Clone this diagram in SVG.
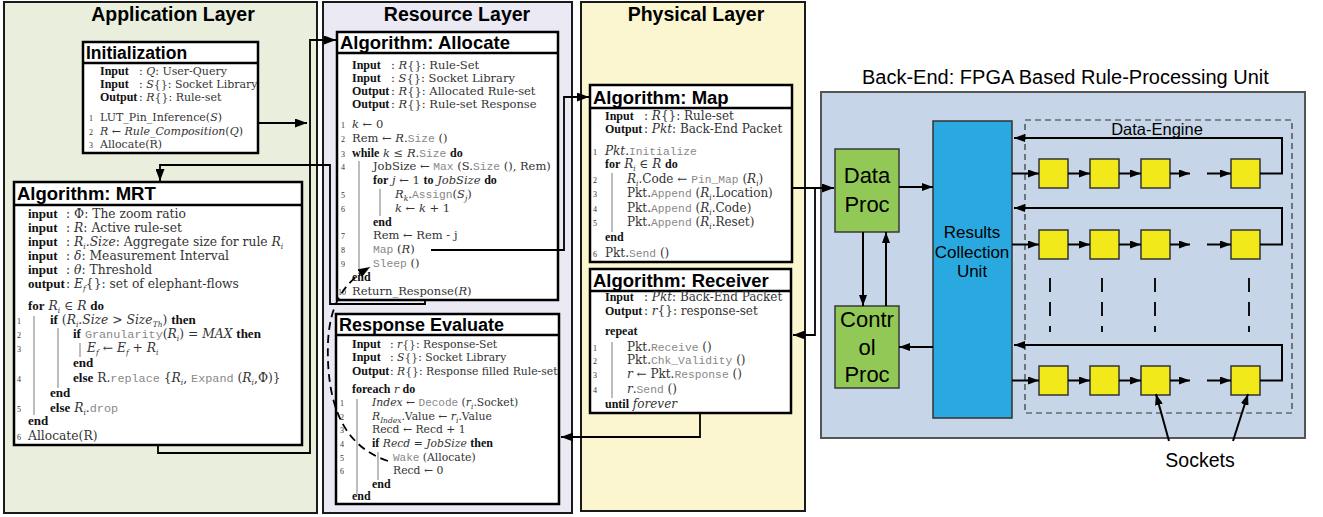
<svg xmlns="http://www.w3.org/2000/svg" width="1323" height="517" viewBox="0 0 1323 517">
<defs>
<marker id="ah" viewBox="0 0 12 9" refX="12" refY="4.5" markerWidth="12" markerHeight="9" markerUnits="userSpaceOnUse" orient="auto"><path d="M0,0 L12,4.5 L0,9 z" fill="#000"/></marker>
<marker id="ab" viewBox="0 0 11 8" refX="11" refY="4" markerWidth="11" markerHeight="8" markerUnits="userSpaceOnUse" orient="auto"><path d="M0,0 L11,4 L0,8 z" fill="#000"/></marker>
</defs>
<style>
.pan{stroke:#1a1a1a;stroke-width:2}
.lt{font-family:"Liberation Sans",Arial,sans-serif;font-weight:bold;font-size:19.5px;text-anchor:middle;fill:#000}
.box{fill:#fff;stroke:#000;stroke-width:2.5}
.ttl{font-family:"Liberation Sans",Arial,sans-serif;font-weight:bold;font-size:18.5px;fill:#000}
.tx{font-family:"DejaVu Serif",serif;font-size:11px;fill:#333}
.f115{font-size:11.5px}
.f12{font-size:12px}
.f123{font-size:12.3px}
.k{font-family:"Liberation Serif","Times New Roman",serif;font-weight:bold;font-size:12px;fill:#111}
.i{font-style:italic}
.m{font-family:"Liberation Mono","Courier New",monospace;font-size:11px;fill:#888}
.f123 .m{font-size:11.8px}
.f12 .m,.f115 .m{font-size:11.3px}
.f123 .k{font-size:13px}
.sb{font-size:7.5px;baseline-shift:-3px}
.n{font-family:"Liberation Serif",serif;font-size:8px;fill:#333}
.bar{stroke:#9a9a9a;stroke-width:1.3}
.sa{font-family:"Liberation Sans",Arial,sans-serif;fill:#000}
.grn{fill:#92c855;stroke:#3a3a3a;stroke-width:1.5}
.sq{fill:#f2e91a;stroke:#333;stroke-width:1.5}
.cn{fill:none;stroke:#000;stroke-width:1.8}
.cb{fill:none;stroke:#000;stroke-width:2}
</style>

<g id="application-layer">
<rect class="pan" x="4" y="2" width="313" height="511" fill="#e9efdc"/>
<text class="lt" x="173" y="21">Application Layer</text>
</g>
<g id="resource-layer">
<rect class="pan" x="323" y="2" width="249" height="511" fill="#ebe9f3"/>
<text class="lt" x="457" y="21">Resource Layer</text>
</g>
<g id="physical-layer">
<rect class="pan" x="581" y="2" width="224" height="509" fill="#fbf6d0"/>
<text class="lt" x="696" y="21">Physical Layer</text>
</g>

<g id="initialization">
<rect class="box" x="83" y="42" width="175" height="111"/>
<line x1="83" y1="63" x2="258" y2="63" stroke="#000" stroke-width="2.5"/>
<text class="ttl" x="86" y="59" style="font-size:17.5px">Initialization</text>
<text class="tx" x="100" y="75"><tspan class="k">Input</tspan></text><text class="tx" x="139" y="75">: <tspan class="i">Q</tspan>: User-Query</text>
<text class="tx" x="100" y="88"><tspan class="k">Input</tspan></text><text class="tx" x="139" y="88">: <tspan class="i">S</tspan>{}: Socket Library</text>
<text class="tx" x="100" y="101"><tspan class="k">Output</tspan></text><text class="tx" x="139" y="101">: <tspan class="i">R</tspan>{}: Rule-set</text>
<text class="n" x="89" y="121">1</text><text class="tx" x="100" y="121">LUT_Pin_Inference(<tspan class="i">S</tspan>)</text>
<text class="n" x="89" y="135">2</text><text class="tx" x="100" y="135"><tspan class="i">R</tspan> ← <tspan class="i">Rule_Composition</tspan>(<tspan class="i">Q</tspan>)</text>
<text class="n" x="89" y="148">3</text><text class="tx" x="100" y="148">Allocate(R)</text>
</g>

<g id="mrt">
<rect class="box" x="14" y="182" width="288" height="263"/>
<line x1="14" y1="205" x2="302" y2="205" stroke="#000" stroke-width="2.5"/>
<text class="ttl" x="17" y="200">Algorithm: MRT</text>
<g class="tx f123">
<text x="28" y="218"><tspan class="k">input</tspan></text><text x="66" y="218">: Φ: The zoom ratio</text>
<text x="28" y="232"><tspan class="k">input</tspan></text><text x="66" y="232">: <tspan class="i">R</tspan>: Active rule-set</text>
<text x="28" y="246"><tspan class="k">input</tspan></text><text x="66" y="246">: <tspan class="i">R</tspan><tspan class="sb i">i</tspan><tspan class="i">.Size</tspan>: Aggregate size for rule <tspan class="i">R</tspan><tspan class="sb i">i</tspan></text>
<text x="28" y="260"><tspan class="k">input</tspan></text><text x="66" y="260">: <tspan class="i">δ</tspan>: Measurement Interval</text>
<text x="28" y="274"><tspan class="k">input</tspan></text><text x="66" y="274">: <tspan class="i">θ</tspan>: Threshold</text>
<text x="28" y="288"><tspan class="k">output</tspan></text><text x="66" y="288">: <tspan class="i">E</tspan><tspan class="sb i">f</tspan>{}: set of elephant-flows</text>
<text x="28" y="310"><tspan class="k">for</tspan> <tspan class="i">R</tspan><tspan class="sb i">i</tspan> ∈ <tspan class="i">R</tspan> <tspan class="k">do</tspan></text>
<text x="50" y="324"><tspan class="k">if</tspan> (<tspan class="i">R</tspan><tspan class="sb i">i</tspan><tspan class="i">.Size</tspan> &gt; <tspan class="i">Size</tspan><tspan class="sb i">Th</tspan>) <tspan class="k">then</tspan></text>
<text x="73" y="338"><tspan class="k">if</tspan> <tspan class="m">Granularity</tspan>(<tspan class="i">R</tspan><tspan class="sb i">i</tspan>) = <tspan class="i">MAX</tspan> <tspan class="k">then</tspan></text>
<text x="87" y="352"><tspan class="i">E</tspan><tspan class="sb i">f</tspan> ← <tspan class="i">E</tspan><tspan class="sb i">f</tspan> + <tspan class="i">R</tspan><tspan class="sb i">i</tspan></text>
<text x="73" y="367"><tspan class="k">end</tspan></text>
<text x="73" y="382"><tspan class="k">else</tspan> R.<tspan class="m">replace</tspan> {<tspan class="i">R</tspan><tspan class="sb i">i</tspan>, <tspan class="m">Expand</tspan> (<tspan class="i">R</tspan><tspan class="sb i">i</tspan>,Φ)}</text>
<text x="50" y="397"><tspan class="k">end</tspan></text>
<text x="50" y="412"><tspan class="k">else</tspan> <tspan class="i">R</tspan><tspan class="sb i">i</tspan>.<tspan class="m">drop</tspan></text>
<text x="28" y="425"><tspan class="k">end</tspan></text>
<text x="28" y="440">Allocate(R)</text>
</g>
<text class="n" x="17" y="324">1</text><text class="n" x="17" y="338">2</text><text class="n" x="17" y="352">3</text><text class="n" x="17" y="382">4</text><text class="n" x="17" y="412">5</text><text class="n" x="17" y="440">6</text>
<line class="bar" x1="34" y1="316" x2="34" y2="415"/>
<line class="bar" x1="58" y1="328" x2="58" y2="388"/>
<line class="bar" x1="80" y1="343" x2="80" y2="357"/>
</g>

<g id="allocate">
<rect class="box" x="337" y="32" width="221" height="268"/>
<line x1="337" y1="53" x2="558" y2="53" stroke="#000" stroke-width="2.5"/>
<text class="ttl" x="340" y="49">Algorithm: Allocate</text>
<g class="tx f115">
<text x="352" y="69"><tspan class="k">Input</tspan></text><text x="391" y="69">: <tspan class="i">R</tspan>{}: Rule-Set</text>
<text x="352" y="82"><tspan class="k">Input</tspan></text><text x="391" y="82">: <tspan class="i">S</tspan>{}: Socket Library</text>
<text x="352" y="95"><tspan class="k">Output</tspan></text><text x="391" y="95">: <tspan class="i">R</tspan>{}: Allocated Rule-set</text>
<text x="352" y="108"><tspan class="k">Output</tspan></text><text x="391" y="108">: <tspan class="i">R</tspan>{}: Rule-set Response</text>
<text x="352" y="128"><tspan class="i">k</tspan> ← 0</text>
<text x="352" y="142">Rem ← <tspan class="i">R</tspan>.<tspan class="m">Size</tspan> ()</text>
<text x="352" y="157"><tspan class="k">while</tspan> <tspan class="i">k</tspan> ≤ <tspan class="i">R</tspan>.<tspan class="m">Size</tspan> <tspan class="k">do</tspan></text>
<text x="373" y="170">JobSize ← <tspan class="m">Max</tspan> (S.<tspan class="m">Size</tspan> (), Rem)</text>
<text x="373" y="184"><tspan class="k">for</tspan> <tspan class="i">j</tspan> ← 1 <tspan class="k">to</tspan> <tspan class="i">JobSize</tspan> <tspan class="k">do</tspan></text>
<text x="395" y="198"><tspan class="i">R</tspan><tspan class="sb i">k</tspan>.<tspan class="m">Assign</tspan>(<tspan class="i">S</tspan><tspan class="sb i">j</tspan>)</text>
<text x="395" y="212"><tspan class="i">k</tspan> ← <tspan class="i">k</tspan> + 1</text>
<text x="373" y="226"><tspan class="k">end</tspan></text>
<text x="373" y="239">Rem ← Rem - j</text>
<text x="373" y="253"><tspan class="m">Map</tspan> (<tspan class="i">R</tspan>)</text>
<text x="373" y="267"><tspan class="m">Sleep</tspan> ()</text>
<text x="352" y="281"><tspan class="k">end</tspan></text>
<text x="352" y="295">Return_Response(<tspan class="i">R</tspan>)</text>
</g>
<text class="n" x="341" y="128">1</text><text class="n" x="341" y="142">2</text><text class="n" x="341" y="157">3</text><text class="n" x="341" y="170">4</text><text class="n" x="341" y="198">5</text><text class="n" x="341" y="212">6</text><text class="n" x="341" y="239">7</text><text class="n" x="341" y="253">8</text><text class="n" x="341" y="267">9</text><text class="n" x="338" y="295">10</text>
<line class="bar" x1="359" y1="161" x2="359" y2="274"/>
<line class="bar" x1="380" y1="189" x2="380" y2="216"/>
</g>

<g id="response-evaluate">
<rect class="box" x="336" y="314" width="223" height="190"/>
<line x1="336" y1="335" x2="559" y2="335" stroke="#000" stroke-width="2.5"/>
<text class="ttl" x="339" y="331" style="font-size:18px">Response Evaluate</text>
<g class="tx" style="font-size:10.8px">
<text x="352" y="348"><tspan class="k">Input</tspan></text><text x="390" y="348">: <tspan class="i">r</tspan>{}: Response-Set</text>
<text x="352" y="361"><tspan class="k">Input</tspan></text><text x="390" y="361">: <tspan class="i">S</tspan>{}: Socket Library</text>
<text x="352" y="375"><tspan class="k">Output</tspan></text><text x="390" y="375">: <tspan class="i">R</tspan>{}: Response filled Rule-set</text>
<text x="352" y="393"><tspan class="k">foreach</tspan> <tspan class="i">r</tspan> <tspan class="k">do</tspan></text>
<text x="372" y="406"><tspan class="i">Index</tspan> ← <tspan class="m">Decode</tspan> (<tspan class="i">r</tspan><tspan class="sb i">i</tspan>.Socket)</text>
<text x="372" y="420"><tspan class="i">R</tspan><tspan class="sb i">Index</tspan>.Value ← <tspan class="i">r</tspan><tspan class="sb i">i</tspan>.Value</text>
<text x="372" y="433">Recd ← Recd + 1</text>
<text x="372" y="447"><tspan class="k">if</tspan> <tspan class="i">Recd = JobSize</tspan> <tspan class="k">then</tspan></text>
<text x="393" y="461"><tspan class="m">Wake</tspan> (Allocate)</text>
<text x="393" y="474">Recd ← 0</text>
<text x="372" y="488"><tspan class="k">end</tspan></text>
<text x="352" y="500"><tspan class="k">end</tspan></text>
</g>
<text class="n" x="340" y="406">1</text><text class="n" x="340" y="420">2</text><text class="n" x="340" y="433">3</text><text class="n" x="340" y="447">4</text><text class="n" x="340" y="461">5</text><text class="n" x="340" y="474">6</text>
<line class="bar" x1="357" y1="399" x2="357" y2="494"/>
<line class="bar" x1="378" y1="452" x2="378" y2="480"/>
</g>

<g id="map">
<rect class="box" x="590" y="85" width="202" height="177"/>
<line x1="590" y1="108" x2="792" y2="108" stroke="#000" stroke-width="2.5"/>
<text class="ttl" x="593" y="104">Algorithm: Map</text>
<g class="tx f12">
<text x="605" y="120"><tspan class="k">Input</tspan></text><text x="644" y="120">: <tspan class="i">R</tspan>{}: Rule-set</text>
<text x="605" y="133"><tspan class="k">Output</tspan></text><text x="644" y="133">: <tspan class="i">Pkt</tspan>: Back-End Packet</text>
<text x="605" y="155"><tspan class="i">Pkt</tspan>.<tspan class="m">Initialize</tspan></text>
<text x="605" y="168"><tspan class="k">for</tspan> <tspan class="i">R</tspan><tspan class="sb i">i</tspan> ∈ <tspan class="i">R</tspan> <tspan class="k">do</tspan></text>
<text x="627" y="183"><tspan class="i">R</tspan><tspan class="sb i">i</tspan>.Code ← <tspan class="m">Pin_Map</tspan> (<tspan class="i">R</tspan><tspan class="sb i">i</tspan>)</text>
<text x="627" y="197">Pkt.<tspan class="m">Append</tspan> (<tspan class="i">R</tspan><tspan class="sb i">i</tspan>.Location)</text>
<text x="627" y="212">Pkt.<tspan class="m">Append</tspan> (<tspan class="i">R</tspan><tspan class="sb i">i</tspan>.Code)</text>
<text x="627" y="226">Pkt.<tspan class="m">Append</tspan> (<tspan class="i">R</tspan><tspan class="sb i">i</tspan>.Reset)</text>
<text x="605" y="241"><tspan class="k">end</tspan></text>
<text x="605" y="257">Pkt.<tspan class="m">Send</tspan> ()</text>
</g>
<text class="n" x="593" y="155">1</text><text class="n" x="593" y="183">2</text><text class="n" x="593" y="197">3</text><text class="n" x="593" y="212">4</text><text class="n" x="593" y="226">5</text><text class="n" x="593" y="257">6</text>
<line class="bar" x1="612" y1="173" x2="612" y2="232"/>
</g>

<g id="receiver">
<rect class="box" x="590" y="269" width="201" height="144"/>
<line x1="590" y1="291" x2="791" y2="291" stroke="#000" stroke-width="2.5"/>
<text class="ttl" x="593" y="287">Algorithm: Receiver</text>
<g class="tx f12">
<text x="605" y="301"><tspan class="k">Input</tspan></text><text x="644" y="301">: <tspan class="i">Pkt</tspan>: Back-End Packet</text>
<text x="605" y="315"><tspan class="k">Output</tspan></text><text x="644" y="315">: <tspan class="i">r</tspan>{}: response-set</text>
<text x="605" y="335"><tspan class="k">repeat</tspan></text>
<text x="627" y="351">Pkt.<tspan class="m">Receive</tspan> ()</text>
<text x="627" y="364">Pkt.<tspan class="m">Chk_Validity</tspan> ()</text>
<text x="627" y="378"><tspan class="i">r</tspan> ← Pkt.<tspan class="m">Response</tspan> ()</text>
<text x="627" y="393"><tspan class="i">r</tspan>.<tspan class="m">Send</tspan> ()</text>
<text x="605" y="408"><tspan class="k">until</tspan> <tspan class="i">forever</tspan></text>
</g>
<text class="n" x="593" y="351">1</text><text class="n" x="593" y="364">2</text><text class="n" x="593" y="378">3</text><text class="n" x="593" y="393">4</text>
<line class="bar" x1="612" y1="342" x2="612" y2="398"/>
</g>

<g id="back-end">
<rect x="821" y="92" width="484" height="346" fill="#c6d6e8" stroke="#555" stroke-width="2"/>
<text class="sa" x="862" y="84" style="font-size:20px">Back-End: FPGA Based Rule-Processing Unit</text>
</g>
<g id="data-proc">
<rect class="grn" x="835" y="149" width="64" height="83"/>
<text class="sa" x="867" y="183" text-anchor="middle" style="font-size:22px">Data</text>
<text class="sa" x="867" y="212" text-anchor="middle" style="font-size:22px">Proc</text>
</g>
<g id="control-proc">
<rect class="grn" x="835" y="306" width="64" height="82"/>
<text class="sa" x="867" y="327" text-anchor="middle" style="font-size:22px">Contr</text>
<text class="sa" x="867" y="355" text-anchor="middle" style="font-size:22px">ol</text>
<text class="sa" x="867" y="382" text-anchor="middle" style="font-size:22px">Proc</text>
</g>
<g id="results-collection-unit">
<rect x="933" y="121" width="79" height="297" fill="#29a9e0" stroke="#333" stroke-width="1.5"/>
<text class="sa" x="972" y="238" text-anchor="middle" style="font-size:17px">Results</text>
<text class="sa" x="972" y="258" text-anchor="middle" style="font-size:17px">Collection</text>
<text class="sa" x="972" y="277" text-anchor="middle" style="font-size:17px">Unit</text>
</g>
<g id="data-engine">
<rect x="1025" y="120" width="267" height="293" fill="none" stroke="#333" stroke-width="1.2" stroke-dasharray="6 4"/>
<text class="sa" x="1157" y="135" text-anchor="middle" style="font-size:16.5px">Data-Engine</text>
<g id="sockets-row1">
<rect class="sq" x="1039" y="159" width="29" height="29"/><rect class="sq" x="1090" y="159" width="29" height="29"/><rect class="sq" x="1141" y="159" width="29" height="29"/><rect class="sq" x="1231" y="159" width="29" height="29"/>
</g>
<g id="sockets-row2">
<rect class="sq" x="1039" y="230" width="29" height="29"/><rect class="sq" x="1090" y="230" width="29" height="29"/><rect class="sq" x="1141" y="230" width="29" height="29"/><rect class="sq" x="1231" y="230" width="29" height="29"/>
</g>
<g id="sockets-row3">
<rect class="sq" x="1039" y="366" width="29" height="29"/><rect class="sq" x="1090" y="366" width="29" height="29"/><rect class="sq" x="1141" y="366" width="29" height="29"/><rect class="sq" x="1231" y="366" width="29" height="29"/>
</g>
<g stroke="#111" stroke-width="2" stroke-dasharray="14 10">
<line x1="1050" y1="278" x2="1050" y2="332"/><line x1="1102" y1="278" x2="1102" y2="332"/><line x1="1155" y1="278" x2="1155" y2="332"/><line x1="1249" y1="278" x2="1249" y2="332"/>
</g>
</g>
<g id="sockets-label">
<text class="sa" x="1200" y="467" text-anchor="middle" style="font-size:19.5px">Sockets</text>
</g>

<g id="connectors">
<path class="cn" d="M258 123 H307" marker-end="url(#ah)"/>
<path class="cn" d="M158 445 V453 H310 V40 H336" marker-end="url(#ah)"/>
<path class="cn" d="M425 300 V304 H330 V165 H160 V181" marker-end="url(#ah)"/>
<path class="cn" d="M431 250 H564 V97 H589" marker-end="url(#ah)"/>
<path class="cn" d="M792 188 H834" marker-end="url(#ah)"/>
<path class="cn" d="M815 188 V335 H793" marker-end="url(#ah)"/>
<path class="cn" d="M700 413 V437 H561" marker-end="url(#ah)"/>
<path class="cn" d="M388 461 C342 446 326 402 328 342 C330 302 345 282 370 267" stroke-dasharray="8 5" marker-end="url(#ah)"/>
<path class="cb" d="M899 187 H933" marker-end="url(#ab)"/>
<path class="cb" d="M933 347 H899" marker-end="url(#ab)"/>
<path class="cb" d="M863 232 V306" marker-end="url(#ab)"/>
<path class="cb" d="M886 306 V232" marker-end="url(#ab)"/>
<path class="cb" d="M1012 173.5 H1039" marker-end="url(#ab)"/>
<path class="cb" d="M1068 173.5 H1090" marker-end="url(#ab)"/>
<path class="cb" d="M1119 173.5 H1141" marker-end="url(#ab)"/>
<path class="cb" d="M1170 173.5 H1190" marker-end="url(#ab)"/>
<path class="cb" d="M1207 173.5 H1231" marker-end="url(#ab)"/>
<path class="cb" d="M1260 173.5 H1282 V138 H1014" marker-end="url(#ab)"/>
<path class="cb" d="M1012 244.5 H1039" marker-end="url(#ab)"/>
<path class="cb" d="M1068 244.5 H1090" marker-end="url(#ab)"/>
<path class="cb" d="M1119 244.5 H1141" marker-end="url(#ab)"/>
<path class="cb" d="M1170 244.5 H1190" marker-end="url(#ab)"/>
<path class="cb" d="M1207 244.5 H1231" marker-end="url(#ab)"/>
<path class="cb" d="M1260 244.5 H1282 V208 H1014" marker-end="url(#ab)"/>
<path class="cb" d="M1012 380.5 H1039" marker-end="url(#ab)"/>
<path class="cb" d="M1068 380.5 H1090" marker-end="url(#ab)"/>
<path class="cb" d="M1119 380.5 H1141" marker-end="url(#ab)"/>
<path class="cb" d="M1170 380.5 H1190" marker-end="url(#ab)"/>
<path class="cb" d="M1207 380.5 H1231" marker-end="url(#ab)"/>
<path class="cb" d="M1260 380.5 H1282 V345 H1014" marker-end="url(#ab)"/>
<path class="cb" d="M1169 441 L1156 394" marker-end="url(#ab)"/>
<path class="cb" d="M1233 441 L1248 394" marker-end="url(#ab)"/>
</g>
</svg>
